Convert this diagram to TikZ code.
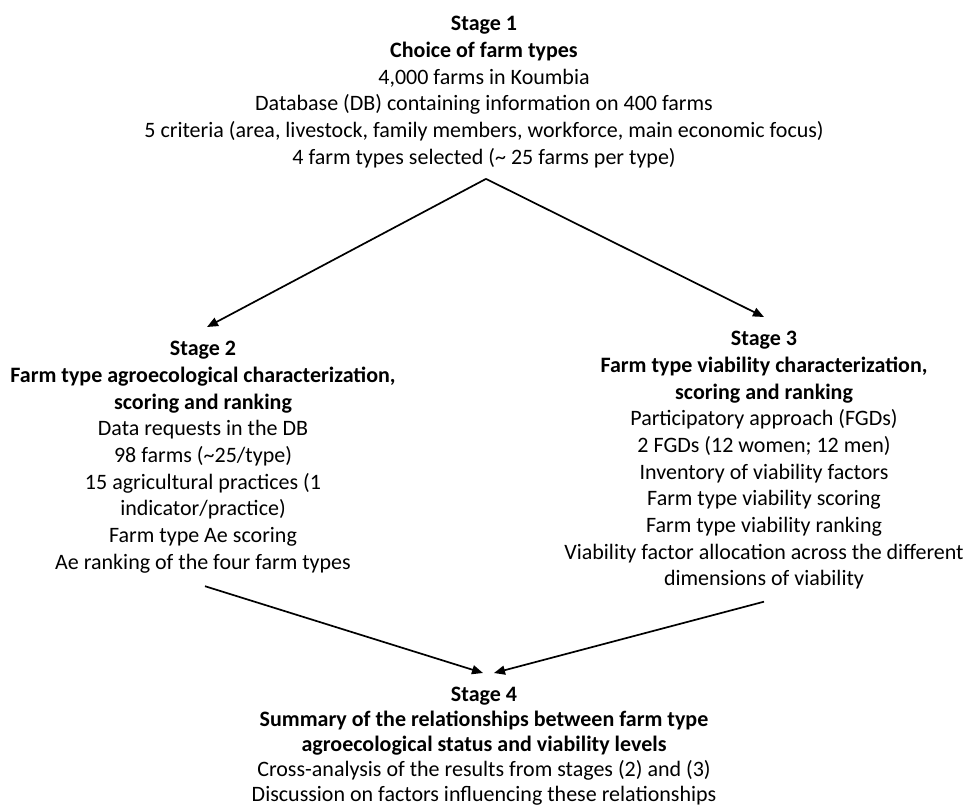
\documentclass[tikz,border=0pt]{standalone}
\usepackage{fontspec}
\setmainfont{Carlito}
\usetikzlibrary{arrows.meta}
\tikzset{stage/.style={align=center, inner sep=0pt, anchor=north, font=\fontsize{22}{26.7}\selectfont},
         flow/.style={-{Triangle[length=11pt, width=9pt]}, line width=1.7pt}}

\begin{document}
\begin{tikzpicture}[x=1pt, y=-1pt]
                    \useasboundingbox (0, 0) rectangle (968, 809);
                    \node[stage] (s1) at (484, 16) {\textbf{Stage 1}\\ \textbf{Choice of farm types}\\ 4,000 farms in Koumbia\\ Database (DB) containing information on 400 farms\\ 5 criteria (area, livestock, family members, workforce, main economic focus)\\ 4 farm types selected (\textasciitilde{} 25 farms per type)};
                    \node[stage] (s2) at (203, 341) {\textbf{Stage 2}\\ \textbf{Farm type agroecological characterization,}\\ \textbf{scoring and ranking}\\ Data requests in the DB\\ 98 farms (\textasciitilde25/type)\\ 15 agricultural practices (1\\ indicator/practice)\\ Farm type Ae scoring\\ Ae ranking of the four farm types};
                    \node[stage] (s3) at (764, 331) {\textbf{Stage 3}\\ \textbf{Farm type viability characterization,}\\ \textbf{scoring and ranking}\\ Participatory approach (FGDs)\\ 2 FGDs (12 women; 12 men)\\ Inventory of viability factors\\ Farm type viability scoring\\ Farm type viability ranking\\ Viability factor allocation across the different\\ dimensions of viability};
                    \node[stage, font=\fontsize{22}{25}\selectfont] (s4) at (484, 687) {\textbf{Stage 4}\\ \textbf{Summary of the relationships between farm type}\\ \textbf{agroecological status and viability levels}\\ Cross-analysis of the results from stages (2) and (3)\\ Discussion on factors influencing these relationships};
                    \coordinate (top) at ([xshift=2pt, yshift=-11pt]s1.south);
                    \draw[flow] (top)--([xshift=4pt, yshift=14pt]s2.north);
                    \draw[flow] (top)--([yshift=14pt]s3.north);
                    \draw[flow] ([xshift=2pt, yshift=-13pt]s2.south)--([xshift=-1pt, yshift=14pt]s4.north);
                    \draw[flow] ([yshift=-12pt]s3.south)--([xshift=10pt, yshift=14pt]s4.north);
                \end{tikzpicture}
\end{document}
